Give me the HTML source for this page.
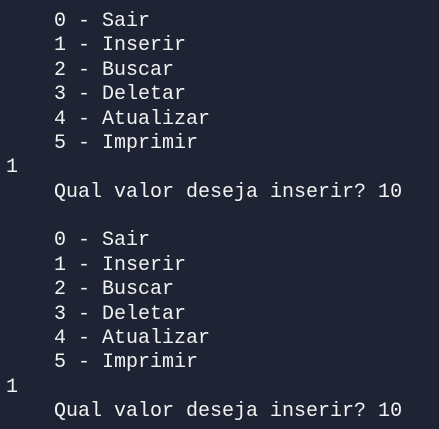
<!DOCTYPE html>
<html><head><style>
html,body{margin:0;padding:0;background:#1e2433;width:439px;height:429px;overflow:hidden}
pre{position:absolute;left:6px;top:10px;margin:0;font-family:"Liberation Mono",monospace;font-size:20px;line-height:24.38px;color:#f2f2f2}
</style></head><body><pre>    0 - Sair
    1 - Inserir
    2 - Buscar
    3 - Deletar
    4 - Atualizar
    5 - Imprimir
1
    Qual valor deseja inserir? 10

    0 - Sair
    1 - Inserir
    2 - Buscar
    3 - Deletar
    4 - Atualizar
    5 - Imprimir
1
    Qual valor deseja inserir? 10</pre></body></html>
